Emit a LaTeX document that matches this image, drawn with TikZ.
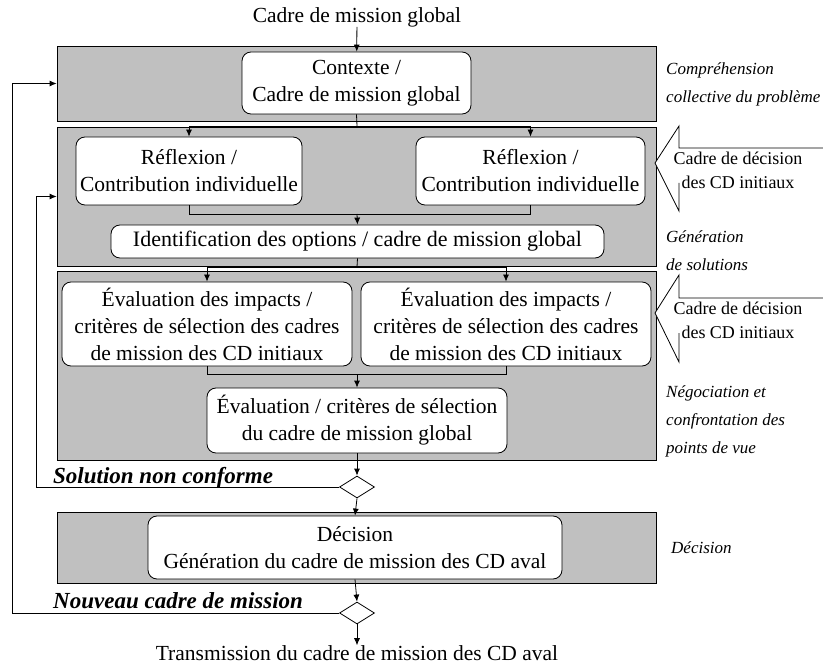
\documentclass[tikz,border=0pt]{standalone}
\usepackage{fontspec}
\setmainfont{Liberation Serif}
\usetikzlibrary{arrows.meta,positioning,shapes.geometric}
\definecolor{bandgray}{RGB}{192,192,192}
\newcommand{\boxfont}{\fontsize{21.5}{27}\selectfont}
\newcommand{\phasefont}{\fontsize{17}{28}\selectfont\itshape}
\newcommand{\loopfont}{\fontsize{23}{25}\selectfont\bfseries\itshape}
\newcommand{\inputfont}{\fontsize{18}{24}\selectfont}

\begin{document}
\begin{tikzpicture}[x=1pt,y=-1pt,
    band/.style={draw=black, fill=bandgray, line width=0.8pt, inner sep=0pt},
    task/.style={draw=black, fill=white, rounded corners=9pt, line width=0.8pt,
      align=center, inner sep=0pt, font=\boxfont},
    choice/.style={diamond, draw=black, fill=white, line width=0.8pt, inner sep=0pt,
      minimum width=35pt, minimum height=22pt},
    phase/.style={anchor=west, align=left, inner sep=0pt, font=\phasefont},
    link/.style={line width=0.8pt},
    arr/.style={link, -{Latex[length=7pt,width=6pt]}}]
    \useasboundingbox (0,0) rectangle (823,666);

    % grey bands
    \node[band, minimum width=599pt, minimum height=75pt] (band1) at (356.5,83.5) {};
    \node[band, minimum width=599pt, minimum height=139pt] (band2) at (356.5,196.5) {};
    \node[band, minimum width=599pt, minimum height=189pt] (band3) at (356.5,365.5) {};
    \node[band, minimum width=599pt, minimum height=71pt] (band4) at (356.5,547.5) {};

    % inputs from the CD initiaux
    \fill[white] (655,163) -- (679,126) -- (679,148) -- (826,148) -- (826,183)
        -- (679,183) -- (679,211) -- cycle;
    \draw[link] (826,148) -- (679,148) -- (679,126) -- (655,163) -- (679,211) -- (679,183);
    \fill[white] (655,313) -- (679,275) -- (679,298) -- (826,298) -- (826,333)
        -- (679,333) -- (679,362) -- cycle;
    \draw[link] (826,298) -- (679,298) -- (679,275) -- (655,313) -- (679,362) -- (679,333);
    \node[font=\inputfont, align=center, inner sep=0pt] (inp1) at (738,170) {Cadre de décision\\des CD initiaux};
    \node[font=\inputfont, align=center, inner sep=0pt] (inp2) at (738,320) {Cadre de décision\\des CD initiaux};

    % tasks
    \node[font=\boxfont, inner sep=0pt] (start) at (357,17) {Cadre de mission global};
    \node[task, minimum width=229pt, minimum height=62pt] (ctx) at (356.5,83) {Contexte /\\Cadre de mission global};
    \node[task, minimum width=226pt, minimum height=68pt] (refl1) at (189,171) {Réflexion /\\Contribution individuelle};
    \node[task, minimum width=229pt, minimum height=68pt] (refl2) at (530.5,171) {Réflexion /\\Contribution individuelle};
    \node[task, minimum width=493pt, minimum height=33pt, font=\fontsize{22}{27}\selectfont] (ident) at (357.5,241.5) {Identification des options / cadre de mission global};
    \node[task, minimum width=290pt, minimum height=84pt] (eval1) at (207,324) {Évaluation des impacts /\\critères de sélection des cadres\\de mission des CD initiaux};
    \node[task, minimum width=290pt, minimum height=84pt] (eval2) at (506,324) {Évaluation des impacts /\\critères de sélection des cadres\\de mission des CD initiaux};
    \node[task, minimum width=300pt, minimum height=65pt] (evalg) at (357,420.5) {Évaluation / critères de sélection\\du cadre de mission global};
    \node[task, minimum width=414pt, minimum height=63pt] (dec) at (355,547.5) {Décision\\Génération du cadre de mission des CD aval};
    \node[choice] (dia1) at (357,487) {};
    \node[choice] (dia2) at (357,613) {};
    \node[font=\boxfont, inner sep=0pt] (out) at (357,653) {Transmission du cadre de mission des CD aval};

    % phase names
    \node[phase] (ph1) at (666,84) {Compréhension\\collective du problème};
    \node[phase] (ph2) at (666,251) {Génération\\de solutions};
    \node[phase] (ph3) at (666,421) {Négociation et\\confrontation des\\points de vue};
    \node[phase] (ph4) at (671,548) {Décision};

    % flow
    \coordinate (split1) at (357,126);
    \coordinate (join1) at (357,214);
    \coordinate (split2) at (357,267);
    \coordinate (join2) at (357,374);
    \draw[arr] (start) -- (ctx);
    \draw[link] (ctx.south) -- (split1);
    \draw[arr] (split1) -| (refl1.north);
    \draw[arr] (split1) -| (refl2.north);
    \draw[link] (refl1.south) |- (join1);
    \draw[link] (refl2.south) |- (join1);
    \draw[arr] (join1) -- (ident.north);
    \draw[link] (ident.south) -- (split2);
    \draw[arr] (split2) -| (eval1.north);
    \draw[arr] (split2) -| (eval2.north);
    \draw[link] (eval1.south) |- (join2);
    \draw[link] (eval2.south) |- (join2);
    \draw[arr] (join2) -- (evalg.north);
    \draw[arr] (evalg.south) -- (dia1.north);
    \draw[arr] (dia1.south) -- (dec.north);
    \draw[arr] (dec.south) -- (dia2.north);
    \draw[arr] (dia2.south) -- (out.north);

    % loops back
    \coordinate (back1) at (36,487);
    \coordinate (back2) at (12,613);
    \draw[arr] (dia1.west) -- (back1) |- (band2.west);
    \draw[arr] (dia2.west) -- (back2) |- (band1.west);
    \node[anchor=base west, inner sep=0pt, font=\loopfont] (nok) at (53,483) {Solution non conforme};
    \node[anchor=base west, inner sep=0pt, font=\loopfont] (nxt) at (53,608) {Nouveau cadre de mission};
\end{tikzpicture}
\end{document}
